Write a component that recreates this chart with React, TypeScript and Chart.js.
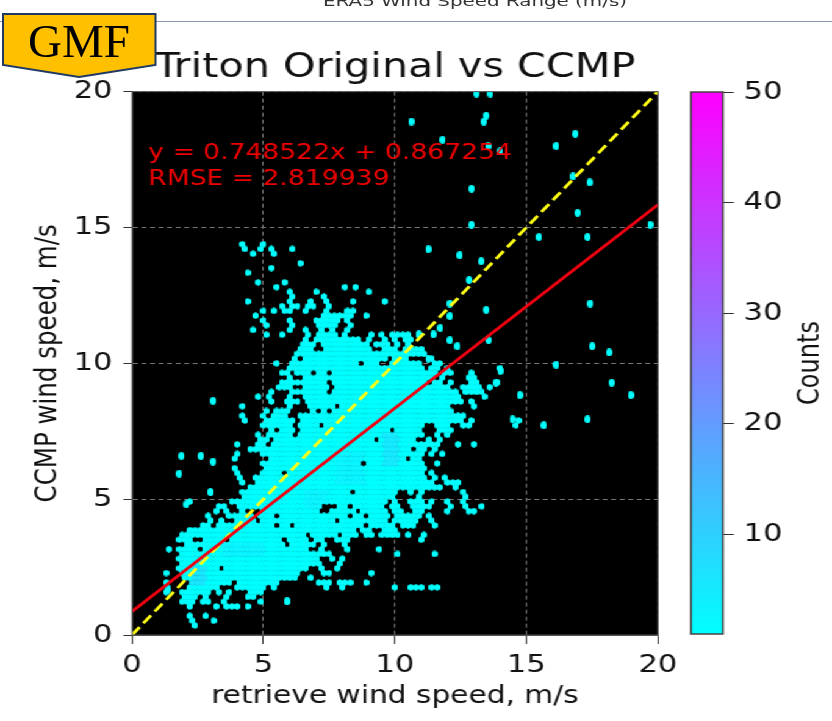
import React, { useEffect, useRef } from "react";
import { Chart, registerables } from "chart.js";

Chart.register(...registerables);

const FONT = "'DejaVu Sans', sans-serif";
const STRETCH = 832 / 682;

const chartTitle = "Triton Original vs CCMP";
const xAxisTitle = "retrieve wind speed, m/s";
const yAxisTitle = "CCMP wind speed, m/s";
const colorbarTitle = "Counts";
const bannerText = "ERA5 Wind Speed Range (m/s)";
const badgeText = "GMF";
const fitLabels = ["y = 0.748522x + 0.867254", "RMSE = 2.819939"];

const axisMin = 0;
const axisMax = 20;
const axisStep = 5;
const countTicks = [10, 20, 30, 40, 50];
const countMin = 1;
const countMax = 50;

const fitLineX = [0, 20];
const fitLineY = [0.867254, 15.837694];
const oneToOneX = [0, 20];
const oneToOneY = [0, 20];

// Occupied hexagon bins, one string per lattice row (row height 0.1754 m/s, column width 0.2 m/s).
const binRows: string[] = [
  "", "",
  "2.4",
  "2.3 3.1",
  "2.2 2.8",
  "",
  "2.2 3.1 3.5 3.8 4.0 4.35",
  "1.8-2.4 2.7 3.0 3.5 4.8 5.9",
  "2.0-2.4 2.7 3.6 4.4-4.6",
  "2.0-2.5 2.8-3.0 3.2 3.7 4.4-4.8 1.4",
  "2.1-3.2 4.1-4.9 5.4 7.4 8.1 10.0 10.5-10.9 11.4-11.6",
  "1.4 2.3-3.8 4.0-5.3 5.5 7.1-7.4 7.9-8.3 8.8",
  "2.0-2.1 2.3-6.3 6.8",
  "1.4 1.8-6.3 7.3 7.5 9.1",
  "1.9-3.3 3.5-6.6 7.2 7.8",
  "1.8-3.3 3.5-7.0 7.8",
  "1.9-7.1 7.6 8.0",
  "1.9-6.6 6.9-7.3 7.5 10.0 11.45",
  "1.4 1.9-2.4 2.8-6.6 7.2 8.2 9.3",
  "2.1-2.5 2.7-5.6 6.0-6.6 6.8 7.2 8.2",
  "1.9-2.3 2.7-3.4 3.8-5.6 6.0-6.5 6.9 7.2 7.7-8.2 11.1",
  "2.0-3.2 3.5-6.5 6.8 7.1-7.4 7.7 8.0-8.4 8.9-9.2 9.4-9.8 10.2 10.5 11.1",
  "2.2-2.6 2.9-5.9 6.1-7.0 7.2-8.4 8.8 9.1 9.5-10.0",
  "2.6 3.0 3.4-5.3 5.7-5.9 6.2-7.2 7.5-8.6 9.1-9.8 10.3 10.45 10.75 11.4",
  "3.0 3.4 3.9-4.6 4.9-6.5 6.8-7.6 7.9-8.4 8.7-9.7 10.0 10.2-10.8 11.3",
  "3.0 3.7 3.9-4.5 4.8-5.3 5.6-8.1 8.4-8.6 9.0-9.7 10.1-10.4 10.6-10.8 11.3",
  "3.2 3.6 4.2 5.1-7.1 7.5-8.3 8.8-9.6 9.9 10.25 10.8-11.0 11.9-12.1 12.85 13.05",
  "3.2-3.5 4.1-4.4 4.6-6.6 6.9-7.1 7.9-8.1 8.4-9.5 9.8-10.1 10.7-11.0 11.3 12.0 12.6 13.3",
  "2.1 3.8-4.0 4.2-9.5 9.9 10.7-11.0 11.3 12.0 12.6",
  "4.2-8.6 8.9-9.6 9.9 10.8 12.7",
  "3.0 4.3-6.7 7.0-8.2 8.6-9.5 9.8-10.0 10.5 11.1 12.7",
  "4.5-9.6 9.7-10.05 10.25-10.7 10.95-11.45 11.7 12.3",
  "4.3 4.7-10.4 10.6-11.2 11.4 12.0-12.4",
  "4.1 4.7-8.3 8.5-10.4 10.6-11.2 11.4 11.9",
  "4.0 4.9-5.6 5.9-8.6 8.8-11.0 11.4",
  "3.9 5.0-5.6 5.9-7.1 7.3-9.5 9.7-10.4 10.5-11.0",
  "5.0-6.1 6.3-8.6 8.9-10.4 10.7-11.0 11.5",
  "3.9 5.2-6.6 6.9-8.7 8.9-10.3 10.6 10.8",
  "3.9 5.0-5.2 5.4-9.5 9.7-10.9 11.3 11.8",
  "4.5-5.0 5.3-9.0 9.2-10.5 10.8-11.0 11.4",
  "3.9 4.8-5.0 5.4-9.4 9.7-10.4 10.7-11.3 11.6 12.3 13.0",
  "4.9-5.1 5.5-9.2 9.4-10.4 10.7 11.3 11.6",
  "4.8 5.3-5.9 6.4-10.9 11.7 11.9",
  "5.3 5.7-6.0 6.5-9.6 10.0-10.9 11.7-12.0",
  "5.1-5.9 6.4-7.0 7.3-10.9 11.6-12.0 12.5 12.85 14.5",
  "4.2 5.0-6.0 6.5-7.5 7.7-12.5 12.9 14.75",
  "4.2 5.0 5.4-5.8 6.4-7.0 7.2-12.7",
  "5.0 5.4 5.6 5.8 6.9 7.3 7.6-10.7 10.9-11.3 11.4-12.1",
  "4.3 6.0 6.7-7.6 7.9-9.9 10.2-12.1 12.9",
  "5.2 5.9 6.1-6.3 6.6-9.8 10.0-11.7 11.9-12.4 12.8",
  "4.8 5.3 5.9 6.1 6.5-11.5 11.7-12.4 13.3",
  "5.3 6.0 6.2 6.5-7.3 7.7-12.3 12.7-13.1 13.3",
  "5.5-6.1 6.5-7.3 7.8-11.2 11.4-11.9 12.1 12.7-13.1 13.6",
  "5.6-5.9 6.1-6.2 6.5-7.3 7.6-10.6 10.9-11.2 11.5-11.7 12.0 12.8-13.1 13.8",
  "6.0 6.5-10.4 10.6-11.3 11.8 12.8-13.0",
  "5.7 5.9 6.3-6.7 7.0-7.3 7.6-9.4 9.6-10.9 11.0-11.4 11.8-12.1 12.9",
  "6.0-6.2 6.4-6.6 6.8-7.3 7.5-9.3 9.5-10.0 10.1-11.0 11.3 11.5 12.1 14.0",
  "5.4 6.0-6.4 6.6-7.0 7.3-8.5 8.9-9.3 9.8-10.1 10.3-10.9 11.5-11.7",
  "6.2 6.5-6.7 7.0-7.3 7.5-7.8 8.0-9.4 9.6 9.9-10.3 11.3",
  "6.3-8.8 9.1-9.4 9.6-11.0",
  "6.4-6.8 7.3-8.4 8.6-9.1 9.5-9.9 10.3-10.9",
  "6.4-6.8 7.2-8.5 8.7-8.9 9.3-9.6 10.2 10.4",
  "6.5-6.6 7.0-8.6 8.9 9.6 9.9-10.0 10.3-10.5",
  "5.0 5.7 6.6 7.0-7.6 8.2 9.0 9.5 9.8 10.1-10.4 10.9",
  "4.5 6.0 6.6 7.2 7.5 8.2",
  "5.0 6.0 7.1-7.6 8.3",
  "5.0 6.1 7.1-7.7 8.2",
  "4.7 7.2-7.6 7.8 8.2-8.3 8.8",
  "5.0 5.4 5.7 6.1 6.6 7.3 8.2-8.3",
  "5.6 6.0-6.2 6.7-6.9 7.4",
  "4.45 5.9 6.8 7.3 8.3 9.5",
  "6.0 7.2",
  "6.0 7.0-7.1 8.9",
  "5.55 8.15 8.45",
  "4.7 5.85",
  "",
  "4.45",
  "5.3",
  "6.45",
  "",
  "4.55 5.45",
  "4.3 4.85 5.2 6.1",
  "4.15 5.1",
];

// Outlying bins read individually.
const strayX = [13.1, 13.63, 13.47, 13.38, 10.62, 11.81, 13.54, 14.0, 12.91, 12.91, 16.86, 16.13, 16.77, 17.4, 16.95, 19.71, 15.48, 17.32, 11.27, 12.46, 13.28, 12.82, 12.09, 12.09, 13.47, 17.42, 11.72, 11.46, 10.91, 12.09, 12.37, 13.56, 17.5, 18.14, 16.13, 11.27, 14.01, 13.84, 18.24, 18.97, 14.75, 14.47, 15.66, 17.32, 1.88, 2.62, 3.08, 1.79, 2.98, 2.07, 3.08, 5.9, 1.38];
const strayY = [19.93, 19.93, 19.12, 18.9, 18.9, 18.23, 18.0, 17.8, 16.43, 15.1, 18.45, 18.0, 16.88, 16.66, 15.54, 15.1, 14.65, 14.65, 14.2, 13.98, 13.76, 13.07, 12.2, 11.74, 11.97, 12.2, 11.3, 11.07, 11.07, 10.85, 10.63, 10.85, 10.63, 10.4, 9.95, 10.17, 9.72, 9.29, 9.29, 8.83, 8.83, 7.94, 7.72, 7.94, 6.59, 6.59, 6.38, 5.94, 5.26, 4.81, 8.62, 1.25, 1.68];

// Patches where the bins hold higher counts (the paler blue core of the cloud).
const coreXMin = [2.3, 9.6, 7.8, 6.6, 3.5];
const coreXMax = [2.9, 10.2, 8.8, 7.4, 5.0];
const coreYMin = [1.9, 6.2, 5.6, 4.6, 2.9];
const coreYMax = [2.5, 7.4, 6.8, 5.4, 3.4];
const coreCount = [6, 5, 3, 3, 3];

const baseCount = 1;
const strayCount = 1;
const colWidth = 0.2;
const rowHeight = 20 / 57 / 2;

function coolColor(count: number): string {
  const t = Math.max(0, Math.min(1, (count - countMin) / (countMax - countMin)));
  return `rgb(${Math.round(255 * t)},${Math.round(255 * (1 - t))},255)`;
}

const sprites = new Map<number, HTMLCanvasElement>();
function hexSprite(count: number): HTMLCanvasElement {
  let s = sprites.get(count);
  if (!s) {
    s = document.createElement("canvas");
    s.width = 5;
    s.height = 7;
    const c = s.getContext("2d")!;
    c.fillStyle = coolColor(count);
    c.beginPath();
    c.moveTo(2.5, 0);
    c.lineTo(5, 1.75);
    c.lineTo(5, 5.25);
    c.lineTo(2.5, 7);
    c.lineTo(0, 5.25);
    c.lineTo(0, 1.75);
    c.closePath();
    c.fill();
    sprites.set(count, s);
  }
  return s;
}

let straySpriteCache: HTMLCanvasElement | null = null;
function straySprite(): HTMLCanvasElement {
  if (!straySpriteCache) {
    const s = document.createElement("canvas");
    s.width = 5;
    s.height = 8;
    const c = s.getContext("2d")!;
    c.fillStyle = coolColor(strayCount);
    c.beginPath();
    c.ellipse(2.5, 4, 2.5, 4, 0, 0, Math.PI * 2);
    c.fill();
    straySpriteCache = s;
  }
  return straySpriteCache;
}

function countAt(x: number, y: number): number {
  for (let i = 0; i < coreCount.length; i++) {
    if (x >= coreXMin[i] && x <= coreXMax[i] && y >= coreYMin[i] && y <= coreYMax[i]) return coreCount[i];
  }
  return baseCount;
}

function buildBins() {
  const pts: { x: number; y: number }[] = [];
  const styles: HTMLCanvasElement[] = [];
  binRows.forEach((row, j) => {
    const off = j % 2 ? colWidth / 2 : 0;
    const seen = new Set<number>();
    row.split(" ").filter(Boolean).forEach((token) => {
      const parts = token.split("-").map(Number);
      const a = parts[0];
      const b = parts.length > 1 ? parts[1] : a;
      const c0 = Math.round((a - off) / colWidth);
      const c1 = Math.round((b - off) / colWidth);
      for (let c = c0; c <= c1; c++) {
        if (seen.has(c)) continue;
        seen.add(c);
        const x = c * colWidth + off;
        const y = j * rowHeight;
        pts.push({ x, y });
        styles.push(hexSprite(countAt(x, y)));
      }
    });
  });
  strayX.forEach((x, i) => {
    pts.push({ x, y: strayY[i] });
    styles.push(straySprite());
  });
  return { pts, styles };
}

export default function App() {
  const mainRef = useRef<HTMLCanvasElement>(null);
  const barRef = useRef<HTMLCanvasElement>(null);

  useEffect(() => {
    const { pts, styles } = buildBins();

    const plotDressing = {
      id: "plotDressing",
      beforeDraw(chart: any) {
        const { ctx, chartArea: a } = chart;
        ctx.save();
        ctx.fillStyle = "#000";
        ctx.fillRect(a.left, a.top, a.right - a.left, a.bottom - a.top);
        ctx.restore();
      },
      afterDatasetsDraw(chart: any) {
        const { ctx, chartArea: a, scales } = chart;
        ctx.save();
        ctx.fillStyle = "#f00000";
        ctx.font = `21.8px ${FONT}`;
        ctx.textBaseline = "alphabetic";
        const tx = scales.x.getPixelForValue(0.62);
        ctx.fillText(fitLabels[0], tx, scales.y.getPixelForValue(17.53));
        ctx.fillText(fitLabels[1], tx, scales.y.getPixelForValue(16.57));
        ctx.strokeStyle = "#555";
        ctx.lineWidth = 1;
        ctx.strokeRect(a.left, a.top, a.right - a.left, a.bottom - a.top);
        ctx.restore();
      },
    };

    const main = new Chart(mainRef.current!, {
      type: "scatter",
      data: {
        datasets: [
          {
            label: "fit",
            data: fitLineX.map((x, i) => ({ x, y: fitLineY[i] })),
            showLine: true,
            borderColor: "#f00010",
            borderWidth: 2.8,
            pointRadius: 0,
            order: 0,
          },
          {
            label: "one to one",
            data: oneToOneX.map((x, i) => ({ x, y: oneToOneY[i] })),
            showLine: true,
            borderColor: "#ffff14",
            borderWidth: 2.8,
            borderDash: [10, 5],
            pointRadius: 0,
            order: 1,
          },
          {
            label: "bins",
            data: pts,
            pointStyle: styles,
            pointRadius: 3,
            order: 2,
          },
        ],
      } as any,
      options: {
        responsive: false,
        animation: false,
        layout: { padding: { left: 0, top: 0, right: 142.7, bottom: 0 } },
        plugins: {
          legend: { display: false },
          tooltip: { enabled: false },
          title: {
            display: true,
            text: chartTitle,
            fullSize: false,
            color: "#111",
            font: { family: FONT, size: 33.9, weight: "normal" },
            padding: { top: 48, bottom: 3 },
          },
        },
        scales: {
          x: {
            type: "linear",
            min: axisMin,
            max: axisMax,
            afterFit: (s: any) => { s.height = 86; },
            grid: { color: "#777", lineWidth: 1, borderDash: [4, 3], tickLength: 9, tickColor: "#333", tickBorderDash: [] } as any,
            border: { color: "#555", dash: [4, 3] },
            ticks: {
              stepSize: axisStep,
              autoSkip: false,
              maxRotation: 0,
              color: "#111",
              padding: 6,
              font: { family: FONT, size: 25 },
            },
            title: {
              display: true,
              text: xAxisTitle,
              color: "#111",
              font: { family: FONT, size: 24.3 },
              padding: { top: 0, bottom: 10 },
            },
          },
          y: {
            type: "linear",
            min: axisMin,
            max: axisMax,
            afterFit: (s: any) => { s.width = 108.2; },
            grid: { color: "#777", lineWidth: 1, borderDash: [4, 3], tickLength: 7, tickColor: "#333", tickBorderDash: [] } as any,
            border: { color: "#555", dash: [4, 3] },
            ticks: {
              stepSize: axisStep,
              autoSkip: false,
              color: "#111",
              padding: 9,
              font: { family: FONT, size: 25 },
            },
            title: {
              display: true,
              text: yAxisTitle,
              color: "#111",
              font: { family: FONT, size: 24.5 },
              padding: { top: 25, bottom: 0 },
            },
          },
        },
      },
      plugins: [plotDressing],
    } as any);

    const barDressing = {
      id: "barDressing",
      afterDraw(chart: any) {
        const { ctx, chartArea: a } = chart;
        ctx.save();
        ctx.strokeStyle = "#444";
        ctx.lineWidth = 1.5;
        ctx.strokeRect(a.left, a.top, a.right - a.left, a.bottom - a.top);
        ctx.fillStyle = "#111";
        ctx.font = `24px ${FONT}`;
        ctx.textAlign = "center";
        ctx.textBaseline = "middle";
        ctx.translate(108.5, (a.top + a.bottom) / 2);
        ctx.rotate(-Math.PI / 2);
        ctx.fillText(colorbarTitle, 0, 0);
        ctx.restore();
      },
    };

    const bar = new Chart(barRef.current!, {
      type: "bar",
      data: {
        labels: [colorbarTitle],
        datasets: [
          {
            data: [[countMin, countMax]],
            barPercentage: 1,
            categoryPercentage: 1,
            borderSkipped: false,
            backgroundColor: (ctx: any) => {
              const a = ctx.chart.chartArea;
              if (!a) return coolColor(countMin);
              const g = ctx.chart.ctx.createLinearGradient(0, a.bottom, 0, a.top);
              g.addColorStop(0, coolColor(countMin));
              g.addColorStop(1, coolColor(countMax));
              return g;
            },
          },
        ],
      } as any,
      options: {
        responsive: false,
        animation: false,
        layout: { padding: { left: 10.4, top: 10, right: 0, bottom: 10 } },
        plugins: { legend: { display: false }, tooltip: { enabled: false } },
        scales: {
          x: { display: false },
          y: {
            position: "right",
            min: countMin,
            max: countMax,
            afterFit: (s: any) => { s.width = 89.4; },
            afterBuildTicks: (s: any) => { s.ticks = countTicks.map((value) => ({ value })); },
            grid: { drawOnChartArea: false, tickLength: 9, tickColor: "#333" },
            border: { display: false },
            ticks: { color: "#111", padding: 8, font: { family: FONT, size: 25 } },
          },
        },
      },
      plugins: [barDressing],
    } as any);

    return () => {
      main.destroy();
      bar.destroy();
    };
  }, []);

  return (
    <div style={{ position: "absolute", left: 0, top: 0, width: 832, height: 721, overflow: "hidden", background: "#fff" }}>
      <div
        style={{
          position: "absolute",
          left: 0,
          top: 0,
          width: 682,
          height: 721,
          transform: `scaleX(${STRETCH})`,
          transformOrigin: "0 0",
        }}
      >
        <canvas ref={mainRef} width={682} height={721} style={{ position: "absolute", left: 0, top: 0 }} />
        <canvas ref={barRef} width={126} height={588} style={{ position: "absolute", left: 556, top: 69 }} />
      </div>
      <svg width={832} height={721} style={{ position: "absolute", left: 0, top: 0 }}>
        <line x1={0} y1={21.5} x2={832} y2={21.5} stroke="#8a9ab5" strokeWidth={1} />
        <text x={475} y={6} textAnchor="middle" textLength={304} lengthAdjust="spacingAndGlyphs" fontFamily={FONT} fontSize={14.5} fill="#333">
          {bannerText}
        </text>
        <polygon points="3,14 155.5,14 155.5,65 79,77 3,65" fill="#ffc000" stroke="#1f3864" strokeWidth={2} />
        <text x={79} y={57} textAnchor="middle" fontFamily="'Liberation Serif', serif" fontSize={47} fill="#000">
          {badgeText}
        </text>
      </svg>
    </div>
  );
}
